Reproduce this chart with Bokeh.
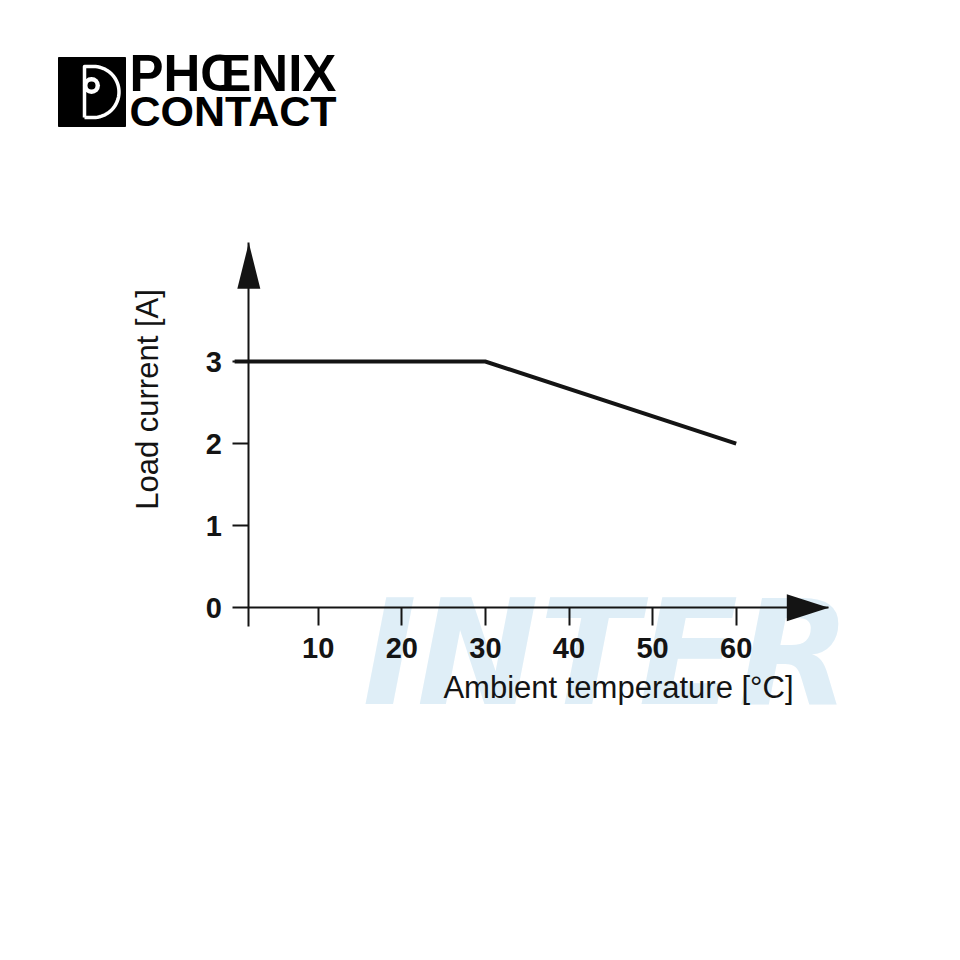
import numpy as np
from bokeh.plotting import figure
from bokeh.models import Range1d, FixedTicker, Label, PolyAnnotation
from bokeh.embed import file_html
from bokeh.resources import INLINE

# ---------------- data ----------------
temperature = [0, 30, 60]          # ambient temperature [°C]
load_current = [3, 3, 2]           # load current [A]
x_ticks = [10, 20, 30, 40, 50, 60]
y_ticks = [0, 1, 2, 3]
x_title = "Ambient temperature [°C]"
y_title = "Load current [A]"
brand_top = "PHŒNIX"
brand_bottom = "CONTACT"
watermark = "INTER"

INK = "#141414"
FONT = "Liberation Sans"

# ---------------- geometry (page pixels) ----------------
W = H = 944
M = 0                 # effective page offset of the canvas
PX_PER_C = 8.36       # pixels per °C
PX_PER_A = 82.1       # pixels per A
X0_PX = 234.1         # page x of 0 °C
Y0_PX = 607.3         # page y of 0 A

def t_of(px):   # page x -> temperature
    return (px - X0_PX) / PX_PER_C
def a_of(py):   # page y -> current
    return (Y0_PX - py) / PX_PER_A

Y_AXIS_AT = t_of(248.3)            # temperature where the y axis is drawn
X_TIP = t_of(828.3)                # x arrow tip
Y_TIP = a_of(242.3)                # y arrow tip
Y_AXIS_BOTTOM = a_of(625.7)        # y axis runs slightly below zero

p = figure(width=W, height=H,
           x_range=Range1d(t_of(M), t_of(M + W)),
           y_range=Range1d(a_of(M + H), a_of(M)),
           toolbar_location=None, output_backend="svg", min_border=0)
p.extra_x_ranges = {"page": Range1d(M, M + W)}
p.extra_y_ranges = {"page": Range1d(M + H, M)}
p.grid.visible = False
p.outline_line_color = None
p.background_fill_color = "white"
p.border_fill_color = "white"

# axes placed inside the frame
p.xaxis.fixed_location = 0
p.xaxis.bounds = (Y_AXIS_AT, X_TIP)
p.yaxis.fixed_location = Y_AXIS_AT
p.yaxis.bounds = (Y_AXIS_BOTTOM, Y_TIP)
p.xaxis.ticker = FixedTicker(ticks=x_ticks)
p.yaxis.ticker = FixedTicker(ticks=y_ticks)
for ax in (p.xaxis[0], p.yaxis[0]):
    ax.axis_line_width = 2
    ax.axis_line_color = INK
    ax.major_tick_line_width = 2
    ax.major_tick_line_color = INK
    ax.major_tick_in = 0
    ax.minor_tick_line_color = None
    ax.major_label_text_font = FONT
    ax.major_label_text_font_style = "bold"
    ax.major_label_text_font_size = "29px"
    ax.major_label_text_color = INK
p.xaxis.major_tick_out = 18
p.yaxis.major_tick_out = 16
p.xaxis.major_label_standoff = 12
p.yaxis.major_label_standoff = 11

# watermark (behind everything)
p.add_layout(Label(x=362, y=652, x_range_name="page", y_range_name="page",
                   text=watermark, text_font="DejaVu Sans",
                   text_font_style="bold italic", text_font_size="146px",
                   text_color="#dfeef7", text_baseline="alphabetic", level="underlay"))

# derating curve
p.line(temperature, load_current, line_width=4, line_color=INK, line_join="miter")

# arrow heads
hw_y, hl_y = 11.5 / PX_PER_C, 46 / PX_PER_A
p.add_layout(PolyAnnotation(xs=[Y_AXIS_AT - hw_y, Y_AXIS_AT, Y_AXIS_AT + hw_y],
                            ys=[Y_TIP - hl_y, Y_TIP, Y_TIP - hl_y],
                            fill_color=INK, fill_alpha=1, line_color=None))
hl_x, hw_x = 42 / PX_PER_C, 13.5 / PX_PER_A
p.add_layout(PolyAnnotation(xs=[X_TIP - hl_x, X_TIP, X_TIP - hl_x],
                            ys=[-hw_x, 0, hw_x],
                            fill_color=INK, fill_alpha=1, line_color=None))

# axis titles
p.add_layout(Label(x=147, y=399, x_range_name="page", y_range_name="page",
                   text=y_title, angle=np.pi / 2,
                   text_align="center", text_baseline="middle", text_font=FONT,
                   text_font_size="31px", text_color=INK))
p.add_layout(Label(x=793, y=687, x_range_name="page", y_range_name="page",
                   text=x_title, text_align="right",
                   text_baseline="alphabetic", text_font=FONT,
                   text_font_size="31px", text_color=INK))

# ---------------- logo (page coordinates) ----------------
p.quad(left=58, right=125, top=57, bottom=126, fill_color="black", line_color="black",
       x_range_name="page", y_range_name="page")
ang = np.linspace(-np.pi / 2, np.pi / 2, 40)
dxs = [84, 84, 93] + list(93 + 25.5 * np.cos(ang)) + [93, 84]
dys = [117, 66, 66] + list(91.5 + 25.5 * np.sin(ang)) + [117, 117]
p.line(dxs, dys, line_color="white", line_width=3.5, line_join="round",
       x_range_name="page", y_range_name="page")
p.circle(x=[91], y=[85], radius=8.5, fill_color="white", line_color=None,
         x_range_name="page", y_range_name="page")
p.circle(x=[91], y=[85], radius=4, fill_color="black", line_color=None,
         x_range_name="page", y_range_name="page")
p.add_layout(Label(x=129, y=73, x_range_name="page", y_range_name="page",
                   text=brand_top, text_font=FONT, text_font_style="bold",
                   text_font_size="51px", text_color="black", text_baseline="alphabetic"))
p.add_layout(Label(x=129, y=110, x_range_name="page", y_range_name="page",
                   text=brand_bottom, text_font=FONT, text_font_style="bold",
                   text_font_size="43px", text_color="black", text_baseline="alphabetic"))

open("out.html", "w").write(file_html(p, INLINE))
